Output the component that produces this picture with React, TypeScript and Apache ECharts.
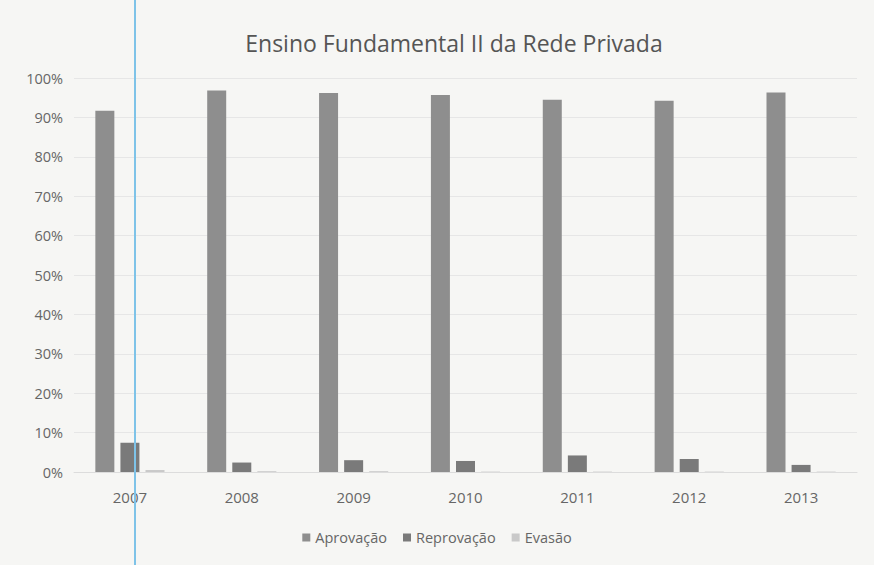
import React, { useEffect, useRef } from "react";
import * as echarts from "echarts";

const years = ["2007", "2008", "2009", "2010", "2011", "2012", "2013"];
const aprovacao = [91.7, 96.8, 96.2, 95.7, 94.5, 94.2, 96.3];
const reprovacao = [7.4, 2.4, 3.0, 2.8, 4.2, 3.3, 1.8];
const evasao = [0.5, 0.2, 0.2, 0.1, 0.1, 0.1, 0.1];
const seriesNames = ["Aprovação", "Reprovação", "Evasão"];
const title = "Ensino Fundamental II da Rede Privada";

export default function App() {
  const ref = useRef<HTMLDivElement>(null);
  useEffect(() => {
    if (!ref.current) return;
    const chart = echarts.init(ref.current, null, { renderer: "svg" });
    const font = "Open Sans, Noto Sans, sans-serif";
    chart.setOption({
      animation: false,
      backgroundColor: "#f6f6f4",
      title: {
        text: title,
        left: 449,
        textAlign: "center",
        top: 26,
        textStyle: { fontFamily: font, fontSize: 23, fontWeight: "normal", color: "#555" },
      },
      legend: {
        data: seriesNames,
        bottom: 15,
        left: "center",
        itemWidth: 8,
        itemHeight: 8,
        itemGap: 16,
        icon: "rect",
        textStyle: { fontFamily: font, fontSize: 14.5, color: "#666" },
      },
      grid: { left: 74, right: 17, top: 78, bottom: 93, containLabel: false },
      xAxis: {
        type: "category",
        data: years,
        axisTick: { show: false },
        axisLine: { lineStyle: { color: "#dcdcdc" } },
        axisLabel: { fontFamily: font, fontSize: 15, color: "#666", margin: 17 },
      },
      yAxis: {
        type: "value",
        min: 0,
        max: 100,
        interval: 10,
        axisLabel: { formatter: "{value}%", fontFamily: font, fontSize: 14.5, color: "#666", margin: 11 },
        splitLine: { lineStyle: { color: "#e6e6e6" } },
        axisLine: { show: false },
        axisTick: { show: false },
      },
      series: [
        { name: seriesNames[0], type: "bar", data: aprovacao, barWidth: 19, barGap: "32%", itemStyle: { color: "#8e8e8e" } },
        { name: seriesNames[1], type: "bar", data: reprovacao, barWidth: 19, itemStyle: { color: "#7a7a7a" } },
        { name: seriesNames[2], type: "bar", data: evasao, barWidth: 19, itemStyle: { color: "#c9c9c9" } },
      ],
      graphic: [
        {
          type: "line",
          shape: { x1: 135, y1: 0, x2: 135, y2: 565 },
          style: { stroke: "#7ec3e8", lineWidth: 2 },
          z: 100,
        },
      ],
    });
    return () => chart.dispose();
  }, []);
  return <div ref={ref} style={{ position: "fixed", left: 0, top: 0, width: 874, height: 565 }} />;
}
